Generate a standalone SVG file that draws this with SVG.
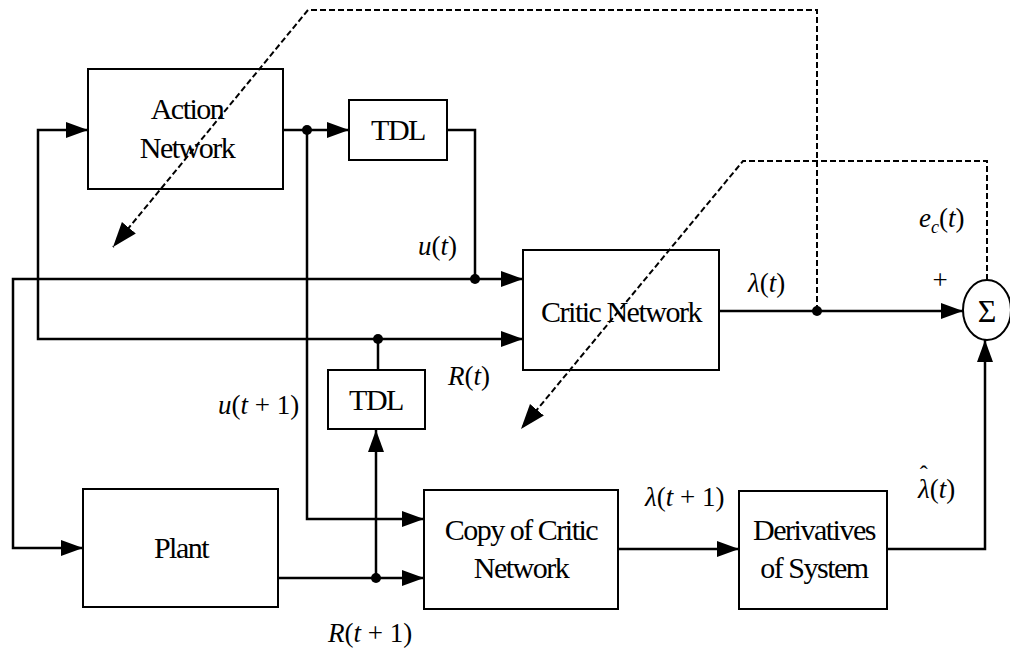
<svg xmlns="http://www.w3.org/2000/svg" width="1010" height="651" viewBox="0 0 1010 651">
<defs>
<style>
.bx{fill:none;stroke:#000;stroke-width:2}
.bt{font-family:"Liberation Serif","Times New Roman",Times,serif;font-size:30px;letter-spacing:-1.5px;text-anchor:middle;fill:#000}
.ln{fill:none;stroke:#000;stroke-width:2.5}
.ds{fill:none;stroke:#000;stroke-width:2;stroke-dasharray:6,3}
.lb{font-family:"Liberation Serif","Times New Roman",Times,serif;font-size:27px;fill:#000}
.it{font-style:italic}
</style>
<marker id="ar" markerUnits="userSpaceOnUse" markerWidth="23" markerHeight="17" refX="22" refY="8" orient="auto">
<path d="M0,0 L22,8 L0,16 z" fill="#000"/>
</marker>
<marker id="ad" markerUnits="userSpaceOnUse" markerWidth="26" markerHeight="20" refX="25" refY="9" orient="auto">
<path d="M0,0 L25,9 L0,18 z" fill="#000"/>
</marker>
</defs>
<rect width="1010" height="651" fill="#fff"/>

<g id="action">
<rect class="bx" x="88" y="69" width="195" height="120"/>
<text class="bt" x="187" y="119">Action</text>
<text class="bt" x="187" y="158">Network</text>
</g>
<g id="tdl1">
<rect class="bx" x="349" y="100" width="98" height="60"/>
<text class="bt" x="398" y="140">TDL</text>
</g>
<g id="critic">
<rect class="bx" x="523" y="250" width="196" height="120"/>
<text class="bt" x="621" y="322">Critic Network</text>
</g>
<g id="tdl2">
<rect class="bx" x="328" y="370" width="97" height="59"/>
<text class="bt" x="376" y="410">TDL</text>
</g>
<g id="plant">
<rect class="bx" x="83" y="489" width="195" height="118"/>
<text class="bt" x="181" y="558">Plant</text>
</g>
<g id="copy">
<rect class="bx" x="424" y="490" width="194" height="119"/>
<text class="bt" x="521" y="540">Copy of Critic</text>
<text class="bt" x="521" y="578">Network</text>
</g>
<g id="deriv">
<rect class="bx" x="739" y="491" width="148" height="118"/>
<text class="bt" x="814" y="540">Derivatives</text>
<text class="bt" x="814" y="578">of System</text>
</g>
<g id="sum">
<ellipse cx="987" cy="310" rx="24" ry="30" fill="none" stroke="#000" stroke-width="2"/>
<text class="bt" x="987" y="322" style="font-size:32px;letter-spacing:0">Σ</text>
</g>

<g id="connectors">
<path class="ln" d="M283,130 L349,130" marker-end="url(#ar)"/>
<path class="ln" d="M447,130 L475,130 L475,279"/>
<path class="ln" d="M475,279 L523,279" marker-end="url(#ar)"/>
<path class="ln" d="M475,279 L13,279 L13,548 L83,548" marker-end="url(#ar)"/>
<path class="ln" d="M378,339 L523,339" marker-end="url(#ar)"/>
<path class="ln" d="M378,339 L38,339 L38,130 L88,130" marker-end="url(#ar)"/>
<path class="ln" d="M378,370 L378,339"/>
<path class="ln" d="M278,578 L424,578" marker-end="url(#ar)"/>
<path class="ln" d="M376,578 L376,430" marker-end="url(#ar)"/>
<path class="ln" d="M307,130 L307,519 L424,519" marker-end="url(#ar)"/>
<path class="ln" d="M719,311 L963,311" marker-end="url(#ar)"/>
<path class="ln" d="M618,549 L739,549" marker-end="url(#ar)"/>
<path class="ln" d="M887,549 L985,549 L985,340" marker-end="url(#ar)"/>
<path class="ds" d="M987,280 L987,161 L743,161 L521,429" marker-end="url(#ad)"/>
<path class="ds" d="M817,311 L817,10 L308,10 L113,247" marker-end="url(#ad)"/>
<circle cx="307" cy="130" r="5"/>
<circle cx="475" cy="279" r="5"/>
<circle cx="378" cy="339" r="5"/>
<circle cx="376" cy="578" r="5"/>
<circle cx="817" cy="311" r="5"/>
</g>

<g id="labels">
<text class="lb" x="418" y="255"><tspan class="it">u</tspan>(<tspan class="it">t</tspan>)</text>
<text class="lb" x="748" y="292"><tspan class="it">λ</tspan>(<tspan class="it">t</tspan>)</text>
<text class="lb" x="919" y="227"><tspan class="it">e</tspan><tspan class="it" font-size="18" dy="6">c</tspan><tspan dy="-6">(</tspan><tspan class="it">t</tspan>)</text>
<text class="lb" x="940" y="289" text-anchor="middle">+</text>
<text class="lb" x="448" y="385"><tspan class="it">R</tspan>(<tspan class="it">t</tspan>)</text>
<text class="lb" x="218" y="414"><tspan class="it">u</tspan>(<tspan class="it">t</tspan> + 1)</text>
<text class="lb" x="328" y="642"><tspan class="it">R</tspan>(<tspan class="it">t</tspan> + 1)</text>
<text class="lb" x="645" y="506"><tspan class="it">λ</tspan>(<tspan class="it">t</tspan> + 1)</text>
<text class="lb" x="918" y="498"><tspan class="it">λ</tspan><tspan dx="-10" dy="-16" font-size="24">ˆ</tspan><tspan dx="2" dy="16">(</tspan><tspan class="it">t</tspan>)</text>
</g>
</svg>
